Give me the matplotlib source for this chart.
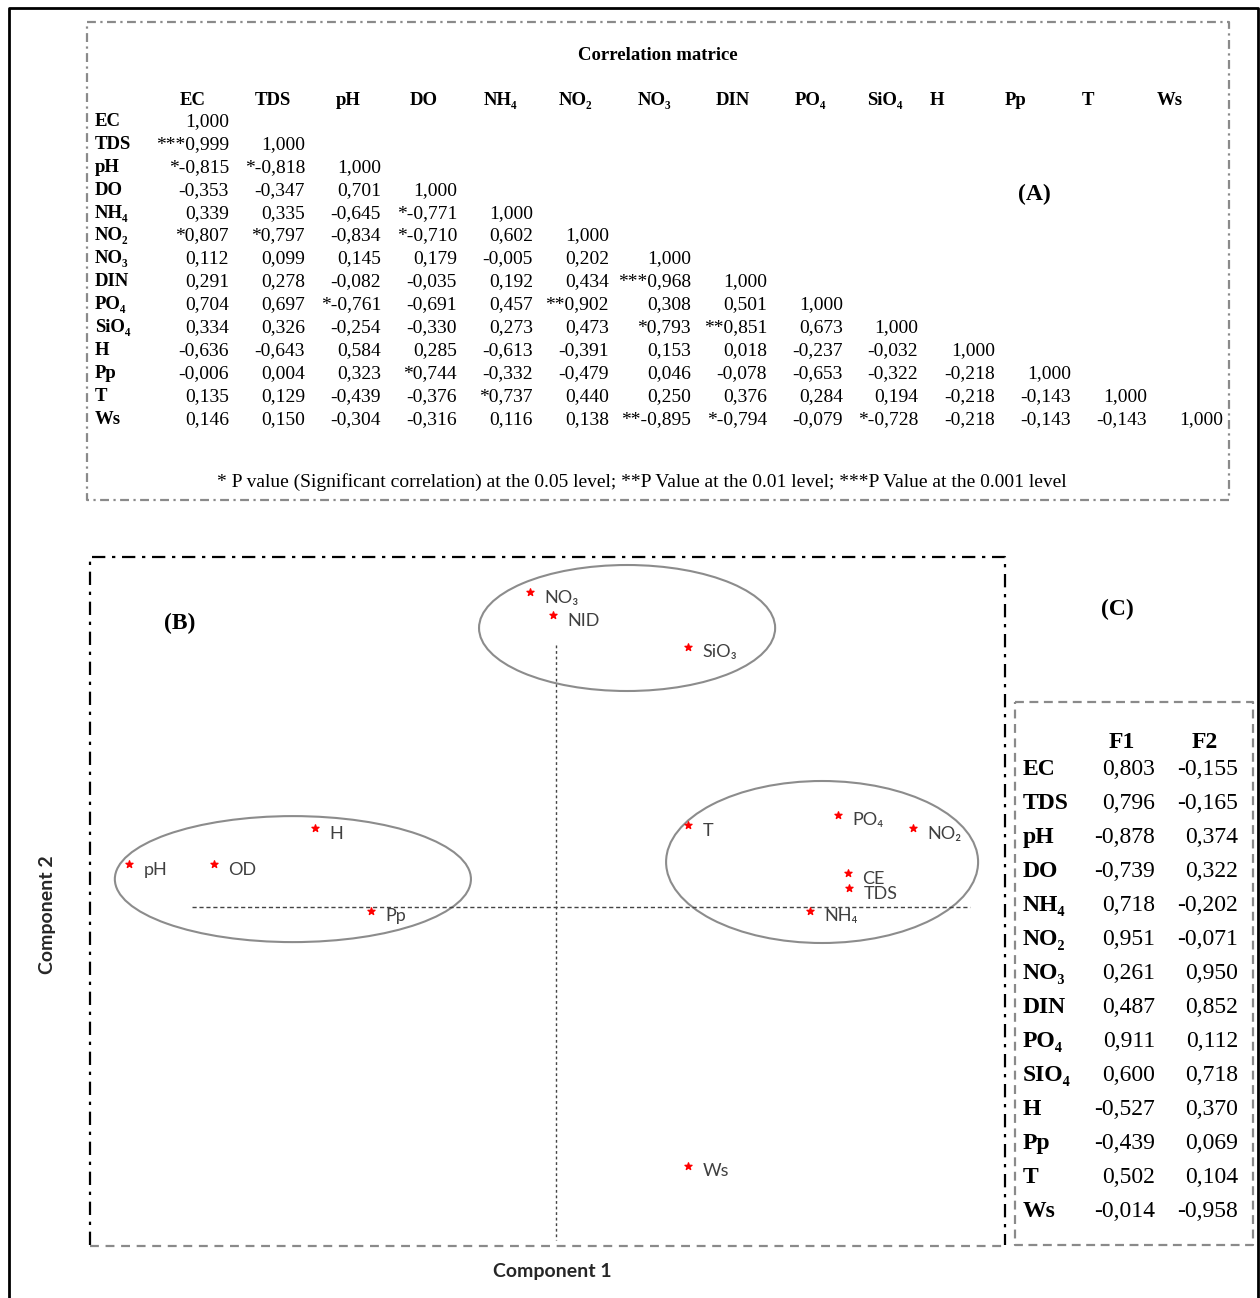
import matplotlib.pyplot as plt
from matplotlib.patches import Ellipse

plt.rcParams['font.family'] = ['Liberation Serif', 'DejaVu Serif']

# (A) correlation matrix, lower triangle
variables = ["EC", "TDS", "pH", "DO", "NH₄", "NO₂", "NO₃", "DIN", "PO₄", "SiO₄", "H", "Pp", "T", "Ws"]
corr = [
    [1.000],
    [0.999, 1.000],
    [-0.815, -0.818, 1.000],
    [-0.353, -0.347, 0.701, 1.000],
    [0.339, 0.335, -0.645, -0.771, 1.000],
    [0.807, 0.797, -0.834, -0.710, 0.602, 1.000],
    [0.112, 0.099, 0.145, 0.179, -0.005, 0.202, 1.000],
    [0.291, 0.278, -0.082, -0.035, 0.192, 0.434, 0.968, 1.000],
    [0.704, 0.697, -0.761, -0.691, 0.457, 0.902, 0.308, 0.501, 1.000],
    [0.334, 0.326, -0.254, -0.330, 0.273, 0.473, 0.793, 0.851, 0.673, 1.000],
    [-0.636, -0.643, 0.584, 0.285, -0.613, -0.391, 0.153, 0.018, -0.237, -0.032, 1.000],
    [-0.006, 0.004, 0.323, 0.744, -0.332, -0.479, 0.046, -0.078, -0.653, -0.322, -0.218, 1.000],
    [0.135, 0.129, -0.439, -0.376, 0.737, 0.440, 0.250, 0.376, 0.284, 0.194, -0.218, -0.143, 1.000],
    [0.146, 0.150, -0.304, -0.316, 0.116, 0.138, -0.895, -0.794, -0.079, -0.728, -0.218, -0.143, -0.143, 1.000],
]
# number of significance stars per cell
stars = [
    [0],
    [3, 0],
    [1, 1, 0],
    [0, 0, 0, 0],
    [0, 0, 0, 1, 0],
    [1, 1, 0, 1, 0, 0],
    [0, 0, 0, 0, 0, 0, 0],
    [0, 0, 0, 0, 0, 0, 3, 0],
    [0, 0, 1, 0, 0, 2, 0, 0, 0],
    [0, 0, 0, 0, 0, 0, 1, 2, 0, 0],
    [0, 0, 0, 0, 0, 0, 0, 0, 0, 0, 0],
    [0, 0, 0, 1, 0, 0, 0, 0, 0, 0, 0, 0],
    [0, 0, 0, 0, 1, 0, 0, 0, 0, 0, 0, 0, 0],
    [0, 0, 0, 0, 0, 0, 2, 1, 0, 1, 0, 0, 0, 0],
]

# (B) PCA plot coordinates (component 1, component 2)
pca_labels = ["NO₃", "NID", "SiO₃", "H", "pH", "OD", "Pp", "T", "PO₄", "NO₂", "CE", "TDS", "NH₄", "Ws"]
comp1 = [-0.087, -0.010, 0.440, -0.803, -1.423, -1.140, -0.617, 0.440, 0.940, 1.190, 0.973, 0.977, 0.847, 0.440]
comp2 = [1.050, 0.973, 0.867, 0.263, 0.143, 0.143, -0.013, 0.273, 0.307, 0.263, 0.113, 0.063, -0.013, -0.863]

# (C) loadings
load_vars = ["EC", "TDS", "pH", "DO", "NH₄", "NO₂", "NO₃", "DIN", "PO₄", "SIO₄", "H", "Pp", "T", "Ws"]
f1 = [0.803, 0.796, -0.878, -0.739, 0.718, 0.951, 0.261, 0.487, 0.911, 0.600, -0.527, -0.439, 0.502, -0.014]
f2 = [-0.155, -0.165, 0.374, 0.322, -0.202, -0.071, 0.950, 0.852, 0.112, 0.718, 0.370, 0.069, 0.104, -0.958]


def fmt(v):
    return f"{v:.3f}".replace(".", ",")


fig = plt.figure(figsize=(12.6, 12.98), dpi=100)
bg = fig.add_axes([0, 0, 1, 1])
bg.set_xlim(0, 1260)
bg.set_ylim(1298, 0)
bg.axis('off')

# outer frame
bg.plot([9, 9, 1258, 1258], [1298, 8, 8, 1298], color='black', lw=2)

# ---- panel A ----
grey = '#8a8a8a'
bg.plot([87, 1229, 1229, 87, 87], [22, 22, 500, 500, 22], color=grey, lw=1.6,
        linestyle=(0, (4, 2, 1, 2)))
bg.text(658, 56, "Correlation matrice", ha='center', va='center', fontsize=13.5, fontweight='bold')
bg.text(1034, 194, "(A)", ha='center', va='center', fontsize=17, fontweight='bold')

head_x = [193, 273, 348, 424, 500, 576, 655, 733, 810, 885, 937, 1016, 1088, 1170]
val_right = [229, 305, 381, 457, 533, 609, 691, 767, 843, 918, 995, 1071, 1147, 1223]
row_y0, row_dy = 121.5, 22.9
for j, name in enumerate(variables):
    bg.text(head_x[j], 100.5, name, ha='center', va='center', fontsize=13.5, fontweight='bold')
for i, name in enumerate(variables):
    y = row_y0 + i * row_dy
    bg.text(95, y, name, ha='left', va='center', fontsize=13.5, fontweight='bold')
    for j, v in enumerate(corr[i]):
        bg.text(val_right[j], y, "*" * stars[i][j] + fmt(v), ha='right', va='center', fontsize=14)

bg.text(642, 482, "* P value (Significant correlation) at the 0.05 level; **P Value at the 0.01 level; "
        "***P Value at the 0.001 level", ha='center', va='center', fontsize=14)

# ---- panel B frame ----
bg.plot([90, 90, 1005, 1005], [1245, 557, 557, 1245], color='black', lw=1.6,
        linestyle=(0, (6, 3, 1.5, 3)))
bg.plot([90, 1005], [1246, 1246], color=grey, lw=1.6, linestyle=(0, (4, 3)))
bg.text(180, 623, "(B)", ha='center', va='center', fontsize=17, fontweight='bold')
bg.text(552, 1272, "Component 1", ha='center', va='center', fontsize=14, fontweight='bold',
        family=['Lato', 'DejaVu Sans'], color='#262626')
bg.text(47, 915, "Component 2", ha='center', va='center', fontsize=14, fontweight='bold',
        rotation=90, family=['Lato', 'DejaVu Sans'], color='#262626')

ax = fig.add_axes([90 / 1260, 1 - 1245 / 1298, 915 / 1260, 688 / 1298])
ax.patch.set_alpha(0)
ax.axis('off')
ax.set_xlim(-1.5533, 1.4967)
ax.set_ylim(-1.1267, 1.1667)

ax.plot([0, 0], [0.873, -1.11], color='#444444', lw=1, linestyle=(0, (2, 2)))
ax.plot([-1.213, 1.38], [0, 0], color='#444444', lw=1, linestyle=(0, (3, 2)))

for c, w, h in [((0.237, 0.93), 0.987, 0.42), ((-0.877, 0.093), 1.187, 0.42), ((0.887, 0.15), 1.04, 0.54)]:
    ax.add_patch(Ellipse(c, w, h, fill=False, ec='#8c8c8c', lw=1.5))

ax.scatter(comp1, comp2, marker='*', s=28, c='red', zorder=3)
for lab, x, y in zip(pca_labels, comp1, comp2):
    ax.annotate(lab, (x, y), xytext=(10.5, -4), textcoords='offset points', ha='left', va='center',
                fontsize=13, family=['Lato', 'DejaVu Sans'], color='#404040')

# ---- panel C ----
bg.text(1117, 609, "(C)", ha='center', va='center', fontsize=17, fontweight='bold')
bg.plot([1015, 1253, 1253, 1015, 1015], [702, 702, 1245, 1245, 702], color=grey, lw=1.6,
        linestyle=(0, (4, 2.5)))
bg.text(1122, 742, "F1", ha='center', va='center', fontsize=17, fontweight='bold')
bg.text(1205, 742, "F2", ha='center', va='center', fontsize=17, fontweight='bold')
for i, name in enumerate(load_vars):
    y = 769.5 + i * 34
    bg.text(1023, y, name, ha='left', va='center', fontsize=17, fontweight='bold')
    bg.text(1155, y, fmt(f1[i]), ha='right', va='center', fontsize=17)
    bg.text(1238, y, fmt(f2[i]), ha='right', va='center', fontsize=17)

fig.savefig('out.png', dpi=100)
